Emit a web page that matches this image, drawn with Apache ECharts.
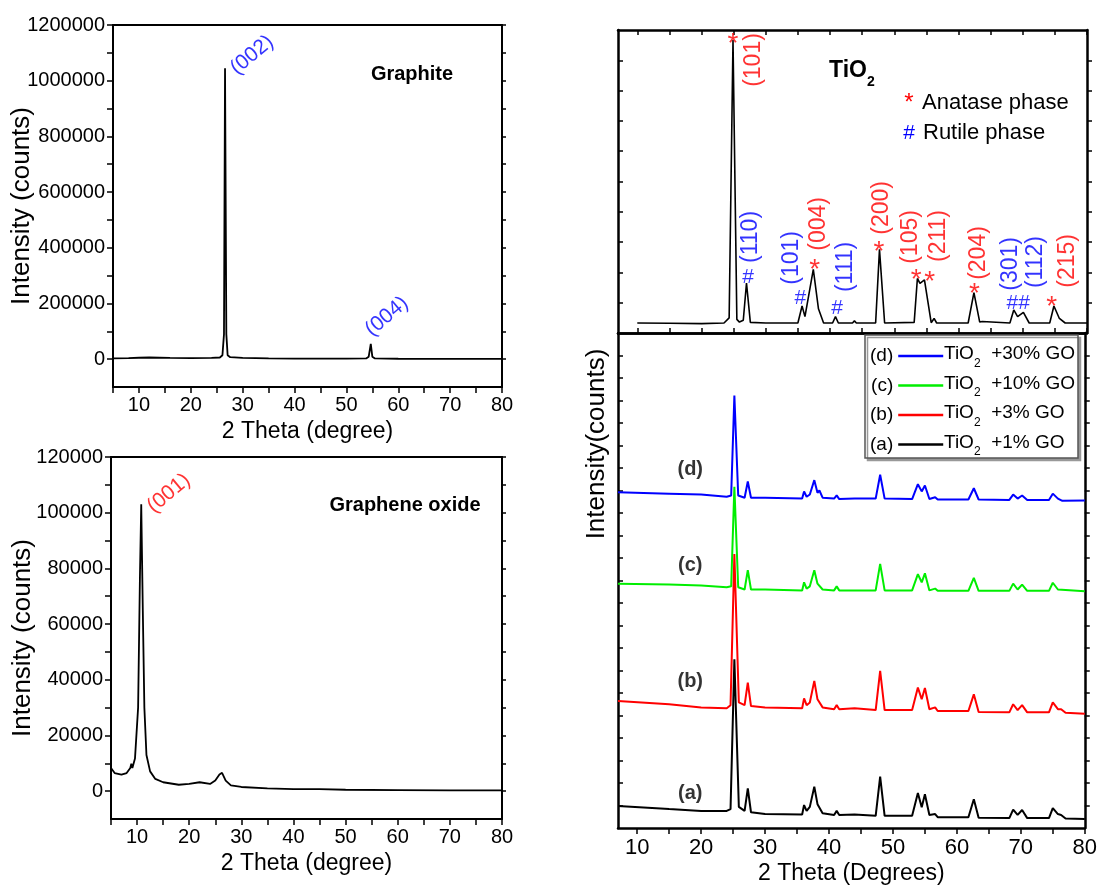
<!DOCTYPE html>
<html>
<head>
<meta charset="utf-8">
<title>XRD patterns</title>
<script src="https://cdn.jsdelivr.net/npm/echarts@6/dist/echarts.min.js"></script>
<style>
  html, body { margin: 0; padding: 0; background: #fff; }
  #main { width: 1100px; height: 890px; }
</style>
</head>
<body>
<div id="main"></div>
<script>
// ---- data, [2theta, intensity] ----
var graphite = [
  [5, 3000], [8, 4000], [10, 5000], [12, 6000], [16, 4500], [20, 4000], [24, 4500],
  [25.6, 6000], [26.1, 14000], [26.4, 90000], [26.6, 1045000], [26.85, 90000], [27.1, 14000],
  [27.6, 7000], [30, 4500], [35, 3000], [40, 2000], [45, 2000], [50, 2000], [53.8, 2500],
  [54.3, 9000], [54.7, 55000], [55.0, 9000], [55.5, 2500], [60, 1500], [70, 1000], [80, 1000]
]
var grapheneOxide = [
  [5, 8300], [5.7, 6500], [7, 5900], [8, 6500], [8.7, 8300], [8.9, 9900], [9.1, 8300],
  [9.6, 11700], [10.2, 30000], [10.55, 77000], [10.8, 103000], [11.1, 65000], [11.4, 30000],
  [11.8, 13000], [12.5, 7100], [13.5, 4400], [15, 3200], [18, 2300], [20, 2600], [22, 3200],
  [24, 2600], [25, 3800], [25.8, 6000], [26.3, 6600], [26.5, 7200], [27, 3800], [28, 2100],
  [30, 1500], [35, 1000], [40, 700], [45, 700], [50, 500], [60, 400], [70, 300], [80, 300]
]
// pure TiO2 (arbitrary units)
var tio2 = [
  [10, 33], [15, 32], [20, 31], [23.5, 33], [24.3, 50], [24.9, 967], [25.5, 45], [25.9, 36],
  [26.5, 42], [27.0, 165], [27.6, 35], [30, 33], [35, 33], [35.65, 89], [36.1, 54], [37.4, 210],
  [38.2, 80], [39.0, 33], [40.4, 33], [40.85, 54], [41.3, 33], [43.5, 33], [43.8, 40], [44.1, 33],
  [47.1, 33], [47.7, 276], [48.5, 33], [53.1, 35], [53.6, 180], [54.0, 164], [54.7, 175],
  [55.75, 34], [56.2, 48], [56.6, 33], [61.5, 33], [62.4, 133], [63.3, 36], [63.7, 38], [64, 33],
  [68.0, 33], [68.6, 76], [69.2, 54], [70.1, 68], [71.0, 33], [74.2, 33], [74.85, 89], [75.7, 48],
  [76.6, 33], [80, 33]
]
// TiO2 + GO composites (arbitrary units, stacked)
var go30 = [
  [7, 746], [15, 743], [20, 741], [24, 736], [24.7, 739], [25.2, 961], [25.8, 739], [26.8, 734],
  [27.3, 770], [27.8, 734], [30, 734], [35.8, 732], [36.1, 748], [36.5, 736], [37.0, 741],
  [37.7, 773], [38.2, 745], [38.5, 750], [39, 734], [40.8, 732], [41.2, 739], [41.6, 731],
  [44, 732], [47.3, 732], [48.0, 785], [48.7, 732], [53.0, 731], [53.9, 764], [54.5, 748],
  [55.0, 761], [55.7, 731], [56.6, 735], [57, 730], [61.8, 730], [62.65, 755], [63.4, 730],
  [68.2, 729], [68.8, 741], [69.5, 732], [70.2, 739], [71, 729], [74.4, 729], [75.0, 743],
  [75.8, 732], [76.5, 727], [80, 728]
]
var go10 = [
  [7, 543], [15, 541], [20, 539], [24, 535], [24.7, 537], [25.2, 758], [25.8, 535], [26.8, 530],
  [27.3, 573], [27.8, 530], [30, 530], [35.8, 528], [36.1, 546], [36.5, 532], [37.0, 537],
  [37.7, 573], [38.2, 543], [38.5, 546], [39, 530], [40.8, 528], [41.2, 537], [41.6, 528],
  [47.3, 528], [48.0, 587], [48.7, 528], [53.0, 528], [53.9, 564], [54.5, 546], [55.0, 566],
  [55.7, 528], [56.6, 532], [57, 527], [61.8, 527], [62.65, 556], [63.4, 527], [68.2, 527],
  [68.8, 543], [69.5, 530], [70.2, 541], [71, 527], [74.4, 527], [75.0, 545], [75.8, 530],
  [80, 526]
]
var go3 = [
  [7, 282], [15, 275], [20, 268], [24, 266], [24.6, 273], [25.2, 609], [25.9, 279], [26.8, 273],
  [27.3, 323], [27.8, 271], [30, 268], [35.8, 266], [36.1, 288], [36.5, 273], [37.0, 279],
  [37.7, 327], [38.2, 286], [38.5, 286], [39, 268], [40.8, 264], [41.2, 273], [41.6, 264],
  [44, 266], [47.3, 262], [48.0, 349], [48.7, 262], [53.0, 262], [53.9, 312], [54.5, 286],
  [55.0, 311], [55.7, 264], [56.6, 268], [57, 260], [61.8, 260], [62.65, 297], [63.4, 258],
  [68.2, 257], [68.8, 275], [69.5, 262], [70.2, 273], [71, 257], [74.4, 257], [75.0, 279],
  [75.8, 264], [76.3, 264], [77, 256], [80, 254]
]
var go1 = [
  [7, 49], [15, 42], [20, 38], [24, 38], [24.6, 42], [25.2, 375], [25.9, 47], [26.8, 38],
  [27.3, 88], [27.8, 35], [30, 31], [35.8, 30], [36.1, 51], [36.5, 38], [37.0, 47], [37.7, 92],
  [38.2, 53], [38.5, 49], [39, 33], [40.8, 29], [41.2, 38], [41.6, 29], [44, 30], [47.3, 27],
  [48.0, 114], [48.7, 27], [53.0, 27], [53.9, 78], [54.5, 46], [55.0, 75], [55.7, 29],
  [56.6, 31], [57, 24], [61.8, 24], [62.65, 64], [63.4, 23], [68.2, 22], [68.8, 41], [69.5, 29],
  [70.2, 40], [71, 22], [74.4, 22], [75.0, 44], [75.8, 31], [76.3, 29], [77, 21], [80, 20]
]

// ---- ticks ----
var leftXTicks = [5, 10, 15, 20, 25, 30, 35, 40, 45, 50, 55, 60, 65, 70, 75, 80]
var leftXLabels = [10, 20, 30, 40, 50, 60, 70, 80]
var graphiteYTicks = [0, 100000, 200000, 300000, 400000, 500000, 600000, 700000, 800000, 900000, 1000000, 1100000, 1200000]
var graphiteYLabels = [0, 200000, 400000, 600000, 800000, 1000000, 1200000]
var goYTicks = [0, 10000, 20000, 30000, 40000, 50000, 60000, 70000, 80000, 90000, 100000, 110000, 120000]
var goYLabels = [0, 20000, 40000, 60000, 80000, 100000, 120000]
var rightXTicks = [10, 15, 20, 25, 30, 35, 40, 45, 50, 55, 60, 65, 70, 75, 80]
var rightXLabels = [10, 20, 30, 40, 50, 60, 70, 80]
var topYTicks = [100, 200, 300, 400, 500, 600, 700, 800, 900]
var bottomYTicks = [50, 100, 150, 200, 250, 300, 350, 400, 450, 500, 550, 600, 650, 700, 750, 800, 850, 900, 950, 1000, 1050]

// ---- annotations ----
var graphitePeaks = [[31.8, 1092000, '(002)'], [57.8, 153400, '(004)']]
var goPeaks = [[16.1, 107000, '(001)']]
var anataseHkl = [[28.1, 901, '(101)'], [38.25, 360, '(004)'], [48.1, 413, '(200)'], [52.5, 317, '(105)'],
  [56.9, 320, '(211)'], [63.2, 264, '(204)'], [77.0, 238, '(215)']]
var rutileHkl = [[27.7, 317, '(110)'], [34.1, 248, '(101)'], [42.4, 218, '(111)'], [68.1, 228, '(301)'], [72.0, 234, '(112)']]
var anataseMarks = [[24.9, 977, '*'], [37.6, 231, '*'], [47.6, 290, '*'], [53.4, 198, '*'], [55.5, 191, '*'], [62.5, 152, '*'], [74.5, 109, '*']]
var rutileMarks = [[27.25, 185, '#'], [35.4, 116, '#'], [41.1, 83, '#'], [69.3, 99, '##']]

var sampleNames = ['TiO2 +30% GO', 'TiO2 +10% GO', 'TiO2 +3% GO', 'TiO2 +1% GO']
var sampleTags = ['(d)', '(c)', '(b)', '(a)']
var sampleColors = ['#0000ff', '#00ee00', '#ff0000', '#000000']
var sampleData = [go30, go10, go3, go1]
var sampleTagPos = [[18.3, 796, '(d)'], [18.3, 584, '(c)'], [18.3, 326, '(b)'], [18.3, 77, '(a)']]

var FONT = 'Liberation Sans, Arial, sans-serif'
var chart = echarts.init(document.getElementById('main'))

function numLabel (v) { return String(v) }

function boxX (grid, pos, opt) {
  var ax = {
    type: 'value', gridIndex: grid, position: pos, min: opt.min, max: 80,
    axisLine: { onZero: false, lineStyle: { color: '#000', width: opt.lw } },
    axisTick: { show: !!opt.ticks, customValues: opt.ticks, inside: !!opt.inside, length: opt.tl || 6, lineStyle: { color: '#000', width: 1.5 } },
    axisLabel: { show: !!opt.labels, customValues: opt.labels, formatter: numLabel, color: '#000', fontSize: opt.fs || 20, fontFamily: FONT, margin: opt.margin || 8 },
    splitLine: { show: false }
  }
  if (opt.name) {
    ax.name = opt.name
    ax.nameLocation = 'middle'
    ax.nameGap = opt.nameGap
    ax.nameMoveOverlap = false
    ax.nameTextStyle = { color: '#000', fontSize: opt.nfs || 23, fontFamily: FONT }
  }
  return ax
}

function boxY (grid, pos, opt) {
  var ax = {
    type: 'value', gridIndex: grid, position: pos, min: opt.min, max: opt.max,
    axisLine: { show: true, onZero: false, lineStyle: { color: '#000', width: opt.lw } },
    axisTick: { show: !!opt.ticks, customValues: opt.ticks, inside: !!opt.inside, length: opt.tl || 6, lineStyle: { color: '#000', width: 1.5 } },
    axisLabel: { show: !!opt.labels, customValues: opt.labels, formatter: numLabel, color: '#000', fontSize: 20, fontFamily: FONT, margin: 8 },
    splitLine: { show: false }
  }
  if (opt.name) {
    ax.name = opt.name
    ax.nameLocation = 'middle'
    ax.nameGap = opt.nameGap
    ax.nameMoveOverlap = false
    ax.nameTextStyle = { color: '#000', fontSize: 26, fontFamily: FONT }
  }
  return ax
}

function textPoints (x, y, data, color, size, rotate, offset, weight) {
  return {
    type: 'scatter', xAxisIndex: x, yAxisIndex: y, data: data,
    symbol: 'circle', symbolSize: 1, itemStyle: { color: 'transparent' }, z: 5,
    label: {
      show: true, position: 'inside', rotate: rotate, offset: offset || [0, 0],
      formatter: function (p) { return p.value[2] },
      color: color, fontSize: size, fontFamily: FONT, fontWeight: weight || 'normal'
    }
  }
}

// "TiO2 ..." text with a low subscript
function tioText (x, y, rest, size, subSize, pad, weight) {
  return {
    type: 'text', x: x, y: y, z: 6,
    style: {
      text: '{m|TiO}{s|2}{m|' + rest + '}', fill: '#000', align: 'left', verticalAlign: 'middle',
      rich: {
        m: { fontSize: size, fontWeight: weight, fontFamily: FONT, lineHeight: size + 3 },
        s: { fontSize: subSize, fontWeight: weight, fontFamily: FONT, lineHeight: size + 3, padding: [pad, 0, 0, 0] }
      }
    }
  }
}

var series = [
  { name: 'Graphite', type: 'line', xAxisIndex: 0, yAxisIndex: 0, data: graphite, showSymbol: false,
    lineStyle: { color: '#000', width: 1.8 }, itemStyle: { color: '#000' } },
  textPoints(0, 0, graphitePeaks, '#0000ff', 21, 40),
  { name: 'Graphene oxide', type: 'line', xAxisIndex: 2, yAxisIndex: 2, data: grapheneOxide, showSymbol: false,
    lineStyle: { color: '#000', width: 1.8 }, itemStyle: { color: '#000' } },
  textPoints(2, 2, goPeaks, '#ff0000', 21, 40),
  { name: 'TiO2', type: 'line', xAxisIndex: 4, yAxisIndex: 4, data: tio2, showSymbol: false,
    lineStyle: { color: '#000', width: 1.6 }, itemStyle: { color: '#000' } },
  textPoints(4, 4, anataseHkl, '#ff0000', 23, 90),
  textPoints(4, 4, rutileHkl, '#0000ff', 23, 90),
  textPoints(4, 4, anataseMarks, '#ff0000', 28, 0, [0, 7]),
  textPoints(4, 4, rutileMarks, '#0000ff', 21, 0, [0, 0])
]
for (var i = 0; i < sampleNames.length; i++) {
  series.push({
    name: sampleNames[i], type: 'line', xAxisIndex: 6, yAxisIndex: 6, data: sampleData[i],
    showSymbol: false, lineStyle: { color: sampleColors[i], width: 2 }, itemStyle: { color: sampleColors[i] }
  })
}
series.push(textPoints(6, 6, sampleTagPos, '#000', 20, 0, [0, 0], 'bold'))

var graphic = [
  { type: 'rect', z: 3, shape: { x: 865, y: 335, width: 213, height: 123 },
    style: { fill: '#fff', stroke: '#555', lineWidth: 1.5, shadowColor: '#999', shadowOffsetX: 2.5, shadowOffsetY: 2.5, shadowBlur: 0 } },
  { type: 'text', x: 412, y: 74, z: 6,
    style: { text: 'Graphite', fill: '#000', fontSize: 20, fontWeight: 'bold', fontFamily: FONT, align: 'center', verticalAlign: 'middle' } },
  { type: 'text', x: 405, y: 505, z: 6,
    style: { text: 'Graphene oxide', fill: '#000', fontSize: 20, fontWeight: 'bold', fontFamily: FONT, align: 'center', verticalAlign: 'middle' } },
  tioText(829, 71, '', 23, 14, 22, 'bold'),
  { type: 'text', x: 909, y: 103, z: 6,
    style: { text: '*', fill: '#ff0000', fontSize: 24, fontFamily: FONT, align: 'center', verticalAlign: 'middle' } },
  { type: 'text', x: 922, y: 103, z: 6,
    style: { text: 'Anatase phase', fill: '#000', fontSize: 22, fontFamily: FONT, align: 'left', verticalAlign: 'middle' } },
  { type: 'text', x: 909, y: 133, z: 6,
    style: { text: '#', fill: '#0000ff', fontSize: 21, fontFamily: FONT, align: 'center', verticalAlign: 'middle' } },
  { type: 'text', x: 923, y: 133, z: 6,
    style: { text: 'Rutile phase', fill: '#000', fontSize: 22, fontFamily: FONT, align: 'left', verticalAlign: 'middle' } },
  { type: 'text', x: 597, y: 444, rotation: Math.PI / 2, z: 6,
    style: { text: 'Intensity(counts)', fill: '#000', fontSize: 26, fontFamily: FONT, align: 'center', verticalAlign: 'middle' } }
]
// legend descriptions to the right of the legend lines
for (var j = 0; j < sampleNames.length; j++) {
  graphic.push(tioText(944, 354 + j * 29.5, ' ' + sampleNames[j].slice(4), 19, 12, 19, 'normal'))
}

var option = {
  animation: false,
  backgroundColor: '#fff',
  textStyle: { fontFamily: FONT },
  grid: [
    { left: 113, top: 25, width: 389, height: 362 },
    { left: 111, top: 457, width: 391, height: 362 },
    { left: 618, top: 30, width: 469, height: 303 },
    { left: 618, top: 333, width: 469, height: 496 }
  ],
  xAxis: [
    boxX(0, 'bottom', { min: 5, lw: 2, ticks: leftXTicks, labels: leftXLabels, name: '2 Theta (degree)', nameGap: 33 }),
    boxX(0, 'top', { min: 5, lw: 2 }),
    boxX(1, 'bottom', { min: 5, lw: 2, ticks: leftXTicks, labels: leftXLabels, name: '2 Theta (degree)', nameGap: 33 }),
    boxX(1, 'top', { min: 5, lw: 2 }),
    boxX(2, 'bottom', { min: 7, lw: 2.5, ticks: rightXTicks, inside: true, tl: 5 }),
    boxX(2, 'top', { min: 7, lw: 2.5, ticks: rightXTicks, inside: true, tl: 5 }),
    boxX(3, 'bottom', { min: 7, lw: 2.5, ticks: rightXTicks, labels: rightXLabels, fs: 22, margin: 9, name: '2 Theta (Degrees)', nameGap: 34 }),
    boxX(3, 'top', { min: 7, lw: 2.5 })
  ],
  yAxis: [
    boxY(0, 'left', { min: -100000, max: 1200000, lw: 2, ticks: graphiteYTicks, labels: graphiteYLabels, name: 'Intensity (counts)', nameGap: 78 }),
    boxY(0, 'right', { min: -100000, max: 1200000, lw: 2, ticks: graphiteYTicks, tl: 4 }),
    boxY(1, 'left', { min: -10000, max: 120000, lw: 2, ticks: goYTicks, labels: goYLabels, name: 'Intensity (counts)', nameGap: 75 }),
    boxY(1, 'right', { min: -10000, max: 120000, lw: 2, ticks: goYTicks, tl: 4 }),
    boxY(2, 'left', { min: 0, max: 1000, lw: 2.5, ticks: topYTicks, inside: true, tl: 5 }),
    boxY(2, 'right', { min: 0, max: 1000, lw: 2.5, ticks: topYTicks, tl: 5 }),
    boxY(3, 'left', { min: 0, max: 1100, lw: 2.5, ticks: bottomYTicks, inside: true, tl: 5 }),
    boxY(3, 'right', { min: 0, max: 1100, lw: 2.5, ticks: bottomYTicks, tl: 5 })
  ],
  legend: {
    orient: 'vertical', left: 865, top: 341, align: 'right', icon: 'rect',
    itemWidth: 45, itemHeight: 2.5, itemGap: 9.5, selectedMode: false,
    data: sampleNames,
    formatter: function (name) { return sampleTags[sampleNames.indexOf(name)] },
    textStyle: { color: '#000', fontSize: 19, fontFamily: FONT, lineHeight: 20 }
  },
  graphic: graphic,
  series: series
}
chart.setOption(option)
</script>
</body>
</html>
